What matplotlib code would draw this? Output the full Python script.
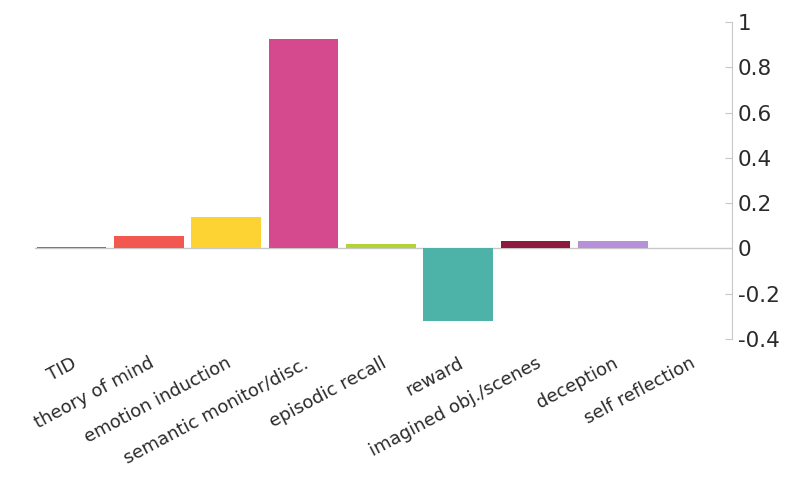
import matplotlib.pyplot as plt

categories = ["TID", "theory of mind", "emotion induction", "semantic monitor/disc.",
              "episodic recall", "reward", "imagined obj./scenes", "deception",
              "self reflection"]
values = [0.008, 0.057, 0.137, 0.927, 0.018, -0.322, 0.035, 0.035, 0.0]
colors = ["#3f86d4", "#f2584f", "#fdd334", "#d5498f", "#b4d336",
          "#4db2a7", "#8e1a3d", "#b690d8", "#aaaaaa"]

fig = plt.figure(figsize=(7.89, 4.88), dpi=100)
ax = fig.add_axes([35 / 789, 1 - 339 / 488, (732 - 35) / 789, (339 - 22) / 488])

x = list(range(len(categories)))
ax.bar(x, values, width=0.9, color=colors, zorder=2)
ax.axhline(0, color="#c8c8c8", lw=1, zorder=1)

ax.set_xlim(-0.47, 8.54)
ax.set_ylim(-0.4, 1)
ax.set_yticks([-0.4, -0.2, 0, 0.2, 0.4, 0.6, 0.8, 1])
ax.set_yticklabels(["-0.4", "-0.2", "0", "0.2", "0.4", "0.6", "0.8", "1"])

for s in ["top", "left", "bottom"]:
    ax.spines[s].set_visible(False)
ax.spines["right"].set_color("#c8c8c8")
ax.yaxis.tick_right()
ax.tick_params(axis="y", direction="in", length=5, color="#c8c8c8",
               labelsize=15.5, labelcolor="#2a2a2a", pad=4)

ax.set_xticks(x)
ax.set_xticklabels(categories, rotation=28, ha="right", rotation_mode="anchor",
                   fontsize=13, color="#2a2a2a")
ax.tick_params(axis="x", length=0, pad=11)

fig.savefig("out.png", dpi=100)
